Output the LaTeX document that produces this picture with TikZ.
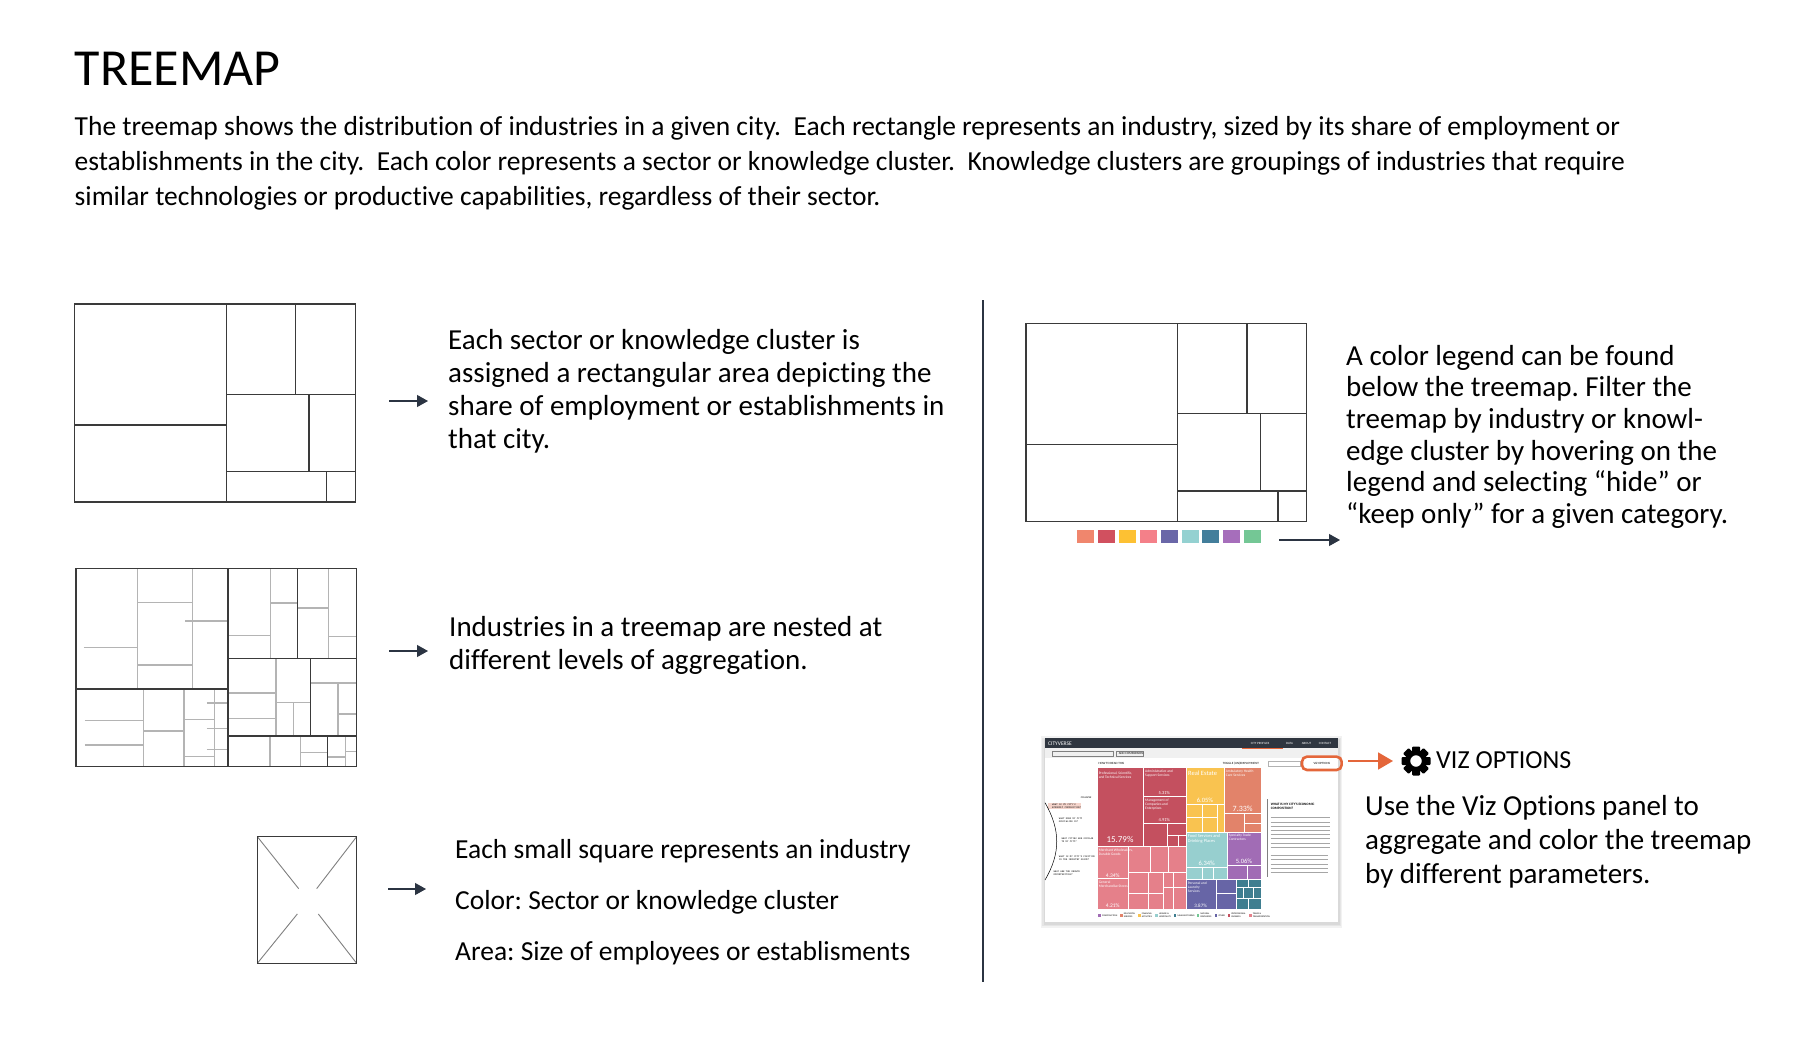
\documentclass[tikz,border=0pt]{standalone}
\usepackage{fontspec}
\setmainfont[Ligatures=NoCommon]{Carlito}
\usetikzlibrary{arrows.meta}
\frenchspacing
\definecolor{inkline}{HTML}{3A3A3A}
\definecolor{softline}{HTML}{B4B4B4}
\definecolor{arrowink}{HTML}{2B3442}
\definecolor{vizorange}{HTML}{E4663A}
\definecolor{barink}{HTML}{2F3640}
\definecolor{cellred}{HTML}{C4505F}
\definecolor{cellpink}{HTML}{E5808A}
\definecolor{cellyellow}{HTML}{F9C350}
\definecolor{cellorange}{HTML}{E2836A}
\definecolor{cellaqua}{HTML}{97CFCF}
\definecolor{cellpurple}{HTML}{A16CB5}
\definecolor{cellindigo}{HTML}{6765A6}
\definecolor{cellteal}{HTML}{3F7E90}
\definecolor{cellgreen}{HTML}{74C795}
\tikzset{
  bodytext/.style={anchor=north west,inner sep=0,align=left,font=\fontsize{27.5}{34.6}\selectfont},
  sidetext/.style={anchor=north west,inner sep=0,align=left,font=\fontsize{29}{33}\selectfont},
  rightext/.style={anchor=north west,inner sep=0,align=left,font=\fontsize{29}{31.6}\selectfont},
  darkrule/.style={draw=inkline,line width=1.3pt},
  softrule/.style={draw=softline,line width=1.1pt},
  pointer/.style={draw=arrowink,line width=1.2pt,-{Triangle[length=11pt,width=12pt]}},
  tinytext/.style={inner sep=0,anchor=north west,align=left,text=white,font=\fontsize{3.6}{4.2}\selectfont},
  bigfigure/.style={inner sep=0,text=white,font=\fontsize{8}{8}\selectfont},
  navtext/.style={anchor=west,inner sep=0,text=white,font=\fontsize{3.2}{4}\selectfont},
  smalltext/.style={anchor=west,inner sep=0,font=\fontsize{3.2}{4}\selectfont},
  storytext/.style={anchor=west,inner sep=0,align=left,font=\fontsize{2.6}{3}\ttfamily},
  legendnote/.style={anchor=west,inner sep=0,align=left,font=\fontsize{2.3}{2.7}\selectfont},
  cell/.style={draw=white,line width=.25pt}
}
% dark partition shared by the plain treemaps
\newcommand{\treeplain}{
  \draw [darkrule] (44,42) rectangle (886,636);
  \draw [darkrule] (499,42) -- (499,636);
  \draw [darkrule] (44,405) -- (499,405);
  \draw [darkrule] (499,313) -- (886,313);
  \draw [darkrule] (499,545) -- (886,545);
  \draw [darkrule] (707,42) -- (707,313);
  \draw [darkrule] (747,313) -- (747,545);
  \draw [darkrule] (800,545) -- (800,636);
}
\begin{document}
\begin{tikzpicture}[x=1pt,y=-1pt]
  \useasboundingbox (0,0) rectangle (1800,1041);
  \fill [white] (0,0) rectangle (1800,1041);

  \node (title) [anchor=north west,inner sep=0,font=\fontsize{52}{52}\selectfont] at (74.5,52) {TREEMAP};
  \node (intro) [bodytext] at (74.5,116.6) {The treemap shows the distribution of industries in a given city.\ \ Each rectangle represents an industry, sized by its share of employment or\\
    establishments in the city.\ \ Each color represents a sector or knowledge cluster.\ \ Knowledge clusters are groupings of industries that require\\
    similar technologies or productive capabilities, regardless of their sector.};

  % left column
  \begin{scope}[shift={(60,290)},x=.3333pt,y=-.3333pt]
    \treeplain
  \end{scope}
  \begin{scope}[shift={(60,560)},x=.3333pt,y=-.3333pt]
    \foreach \px/\pa/\pb in {232/25/387,398/25/387,250/387/620,372/387/620,464/387/620,
        632/25/296,806/25/296,648/296/528,701/428/528,834/369/528,630/528/620,721/528/620,856/528/620}
      \draw [softrule] (\px,\pa) -- (\px,\pb);
    \foreach \py/\pa/\pb in {128/232/398,315/232/398,183/376/503,263/72/232,482/75/250,555/75/250,
        513/250/372,478/372/464,590/372/464,429/441/503,506/441/503,569/441/503,
        227/504/632,129/632/712,144/712/806,230/806/890,399/504/648,475/504/648,428/648/751,
        369/751/890,462/834/890,577/721/803,591/803/856,574/856/890}
      \draw [softrule] (\pa,\py) -- (\pb,\py);
    \draw [darkrule] (48,25) rectangle (890,620);
    \draw [darkrule] (504,25) -- (504,620);
    \draw [darkrule] (48,387) -- (504,387);
    \draw [darkrule] (504,296) -- (890,296);
    \draw [darkrule] (504,528) -- (890,528);
    \draw [darkrule] (712,25) -- (712,296);
    \draw [darkrule] (751,296) -- (751,528);
    \draw [darkrule] (803,528) -- (803,620);
  \end{scope}
  \begin{scope}[shift={(240,820)},x=.3333pt,y=-.3333pt]
    \draw [draw=gray,line width=.9pt] (52,50) -- (176,206);
    \draw [draw=gray,line width=.9pt] (350,50) -- (230,206);
    \draw [draw=gray,line width=.9pt] (52,430) -- (172,282);
    \draw [draw=gray,line width=.9pt] (350,430) -- (235,282);
    \draw [darkrule,line width=1.6pt] (52,50) rectangle (350,430);
  \end{scope}

  \coordinate (arrowAs) at (389,401);
  \coordinate (arrowAe) at (428,401);
  \coordinate (arrowBs) at (389,651);
  \coordinate (arrowBe) at (428,651);
  \coordinate (arrowCs) at (388,889);
  \coordinate (arrowCe) at (426,889);
  \draw [pointer] (arrowAs) -- (arrowAe);
  \draw [pointer] (arrowBs) -- (arrowBe);
  \draw [pointer] (arrowCs) -- (arrowCe);

  \node (sectortext) [sidetext] at (448,329) {Each sector or knowledge cluster is\\assigned a rectangular area depicting the\\share of employment or establishments in\\that city.};
  \node (nesttext) [sidetext] at (449,616) {Industries in a treemap are nested at\\different levels of aggregation.};
  \node (squaretext) [bodytext] at (455,839.5) {Each small square represents an industry};
  \node (colortext) [bodytext] at (455,890.5) {Color: Sector or knowledge cluster};
  \node (areatext) [bodytext] at (455,941.5) {Area: Size of employees or establisments};

  % divider
  \coordinate (ruletop) at (983,300);
  \coordinate (rulebot) at (983,982);
  \draw [draw=arrowink,line width=1.3pt] (ruletop) -- (rulebot);

  % right column
  \begin{scope}[shift={(1020,310)},x=.3333pt,y=-.3333pt]
    \begin{scope}[shift={(-26,-2)}]
      \treeplain
    \end{scope}
  \end{scope}
  \foreach \lc [count=\li from 0] in {F0866D,D1505F,FDC133,F48089,6A67A8,94D1D1,437E9B,A66EBB,74C795} {
    \definecolor{swatch}{HTML}{\lc}
    \fill [swatch] ({1077.3+\li*20.85},530.3) rectangle ++(17,12.4);
  }
  \coordinate (arrowDs) at (1279,540);
  \coordinate (arrowDe) at (1340,540);
  \draw [pointer] (arrowDs) -- (arrowDe);
  \node (legendtext) [rightext] at (1346,345) {A color legend can be found\\below the treemap. Filter the\\treemap by industry or knowl-\\edge cluster by hovering on the\\legend and selecting “hide” or\\“keep only” for a given category.};

  % screenshot
  \begin{scope}[shift={(1040,730)},x=.3333pt,y=-.3333pt]
    \foreach \sh in {12,8,4}
      \fill [black,opacity=.05] (15-\sh,25-\sh+6) rectangle (895+\sh,575+\sh+6);
    \fill [white] (15,25) rectangle (895,575);
    \fill [barink] (15,25) rectangle (895,55);
    \fill [black!6] (15,55) rectangle (895,85);
    \node (brand) [anchor=west,inner sep=0,text=white,font=\fontsize{5.5}{6}\selectfont] at (24,40) {CITYVERSE};
    \node (navprofiles) [navtext] at (632,39) {CITY PROFILES};
    \node (navdata) [navtext] at (738,39) {DATA};
    \node (navabout) [navtext] at (785,39) {ABOUT};
    \node (navcontact) [navtext] at (836,39) {CONTACT};
    \draw [vizorange,line width=.5pt] (606,55) -- (728,55);
    \draw [gray,line width=.3pt] (35,62) rectangle (218,78);
    \draw [gray,line width=.3pt] (228,62) rectangle (310,78);
    \node (addcompare) [smalltext] at (236,70) {ADD COMPARISON};
    \node (howto) [smalltext] at (175,100) {HOW TO READ THIS};
    \node (togglea) [smalltext] at (548,100) {TOGGLE (UN)EMPLOYMENT};
    \draw [gray!60,line width=.3pt] (685,92) rectangle (780,108);
    \node (vizsmall) [smalltext] at (820,100) {VIZ OPTIONS};
    \node (collapse) [smalltext,font=\fontsize{2.6}{3}\selectfont] at (122,202) {COLLAPSE};
    % treemap cells
    \foreach \xa/\ya/\xb/\yb/\cc in {
        170/112/308/348/cellred,308/112/437/198/cellred,308/198/437/280/cellred,308/280/382/348/cellred,
        382/280/437/315/cellred,382/315/415/348/cellred,415/315/437/348/cellred,
        170/348/265/445/cellpink,170/445/265/537/cellpink,265/348/330/425/cellpink,330/348/385/425/cellpink,
        385/348/437/425/cellpink,265/425/323/490/cellpink,265/490/323/537/cellpink,323/425/370/490/cellpink,
        323/490/370/537/cellpink,370/425/400/470/cellpink,400/425/437/470/cellpink,370/470/400/537/cellpink,400/470/437/537/cellpink,
        437/112/552/222/cellyellow,437/222/485/262/cellyellow,437/262/485/305/cellyellow,485/222/530/262/cellyellow,485/262/530/305/cellyellow,530/222/552/305/cellyellow,
        552/112/663/248/cellorange,552/248/612/305/cellorange,612/248/663/280/cellorange,612/280/663/305/cellorange,
        437/305/562/410/cellaqua,437/410/485/447/cellaqua,485/410/520/447/cellaqua,520/410/562/447/cellaqua,
        562/305/663/405/cellpurple,562/405/620/447/cellpurple,620/405/663/447/cellpurple,
        437/447/527/537/cellindigo,527/447/587/490/cellindigo,527/490/587/537/cellindigo,
        587/447/625/470/cellteal,625/447/663/470/cellteal,587/470/610/505/cellteal,610/470/640/505/cellteal,
        640/470/663/505/cellteal,587/505/625/537/cellteal,625/505/663/537/cellteal}
      \filldraw [cell,fill=\cc] (\xa,\ya) rectangle (\xb,\yb);
    \node (cellA) [tinytext] at (176,126) {Professional, Scientific,\\and Technical Services};
    \node (cellB) [tinytext] at (315,118) {Administrative and\\Support Services};
    \node (cellC) [tinytext] at (315,205) {Management of\\Companies and\\Enterprises};
    \node (cellD) [tinytext] at (176,356) {Merchant Wholesalers,\\Durable Goods};
    \node (cellE) [tinytext] at (176,452) {General\\Merchandise Stores};
    \node (cellF) [tinytext,font=\fontsize{6.5}{7}\selectfont] at (444,123) {Real Estate};
    \node (cellG) [tinytext] at (557,120) {Ambulatory Health\\Care Services};
    \node (cellH) [tinytext,font=\fontsize{4.4}{5}\selectfont] at (443,312) {Food Services and\\Drinking Places};
    \node (cellI) [tinytext] at (566,312) {Specialty Trade\\Contractors};
    \node (cellJ) [tinytext] at (443,454) {Personal and\\Laundry\\Services};
    \node (pctA) [bigfigure,font=\fontsize{9}{9}\selectfont] at (240,328) {15.79\%};
    \node (pctB) [bigfigure,font=\fontsize{4.5}{5}\selectfont] at (373,190) {5.31\%};
    \node (pctC) [bigfigure,font=\fontsize{4.5}{5}\selectfont] at (373,270) {4.91\%};
    \node (pctD) [bigfigure,font=\fontsize{5.5}{6}\selectfont] at (218,436) {4.34\%};
    \node (pctE) [bigfigure,font=\fontsize{5.5}{6}\selectfont] at (218,528) {4.21\%};
    \node (pctF) [bigfigure,font=\fontsize{6.5}{7}\selectfont] at (495,212) {6.05\%};
    \node (pctG) [bigfigure] at (608,235) {7.33\%};
    \node (pctH) [bigfigure,font=\fontsize{6.5}{7}\selectfont] at (500,400) {6.34\%};
    \node (pctI) [bigfigure,font=\fontsize{6.5}{7}\selectfont] at (612,394) {5.06\%};
    \node (pctJ) [bigfigure,font=\fontsize{5}{6}\selectfont] at (482,528) {3.87\%};
    % legend row
    \foreach \lx/\cc/\lt [count=\ln] in {175/cellpurple/CONSTRUCTION,240/cellorange/EDUCATION\\SERVICES,294/cellyellow/FINANCIAL\\ACTIVITIES,346/cellaqua/LEISURE \&\\HOSPITALITY,401/cellteal/MANUFACTURING,470/cellgreen/NATURAL\\RESOURCES,524/cellindigo/OTHER,563/cellred/PROFESSIONAL\\BUSINESS,627/cellpink/TRADE \&\\TRANSPORTATION} {
      \fill [\cc] (\lx,552) rectangle ++(8,8);
      \node (legend\ln) [legendnote] at (\lx+11,556) {\lt};
    }
    % side story
    \fill [cellorange!35] (25,218) rectangle (122,238);
    \draw [black,line width=.5pt] (15,218) .. controls (62,300) and (62,370) .. (15,450);
    \node (storyA) [storytext] at (36,228) {WHAT IS MY CITY'S\\ECONOMIC COMPOSITION?};
    \node (storyB) [storytext] at (56,272) {WHAT DOES MY CITY\\SPECIALIZE IN?};
    \node (storyC) [storytext] at (64,331) {WHAT CITIES ARE SIMILAR\\TO MY CITY?};
    \node (storyD) [storytext] at (56,385) {WHAT IS MY CITY'S POSITION\\IN THE INDUSTRY SPACE?};
    \node (storyE) [storytext] at (40,429) {WHAT ARE THE GROWTH\\OPPORTUNITIES?};
    % panel
    \draw [gray,line width=.7pt] (683,208) -- (683,442);
    \node (panelhead) [anchor=north west,inner sep=0,align=left,font=\bfseries\fontsize{3.4}{4.2}\selectfont] at (692,218) {WHAT IS MY CITY'S ECONOMIC\\COMPOSITION?};
    \foreach \ly in {263,276,288,301,313,326,339,351}
      \draw [gray!70,line width=.7pt] (692,\ly) -- (870,\ly);
    \foreach \ly in {377,389,402,414,427}
      \draw [gray!70,line width=.7pt] (692,\ly) -- (865,\ly);
    % highlighted button
    \draw [vizorange,line width=2.6pt,rounded corners=5pt] (786,80) rectangle (905,120);
  \end{scope}

  \coordinate (arrowEs) at (1348,761);
  \coordinate (arrowEe) at (1393,761);
  \draw [vizorange,line width=1.8pt,-{Triangle[length=15pt,width=17pt]}] (arrowEs) -- (arrowEe);

  % gear
  \foreach \ga in {0,45,...,315}
    \fill [black,rounded corners=1pt,rotate around={\ga:(1416,761)}] (1412,746.5) rectangle (1420,753);
  \fill [black,even odd rule] (1416,761) circle (10.6pt) (1416,761) circle (5.8pt);

  \node (viztitle) [anchor=west,inner sep=0,font=\fontsize{26}{30}\selectfont] at (1436,760) {VIZ OPTIONS};
  \node (viztext) [anchor=north west,inner sep=0,align=left,font=\fontsize{29}{34.3}\selectfont] at (1365,795) {Use the Viz Options panel to\\aggregate and color the treemap\\by different parameters.};
\end{tikzpicture}
\end{document}
